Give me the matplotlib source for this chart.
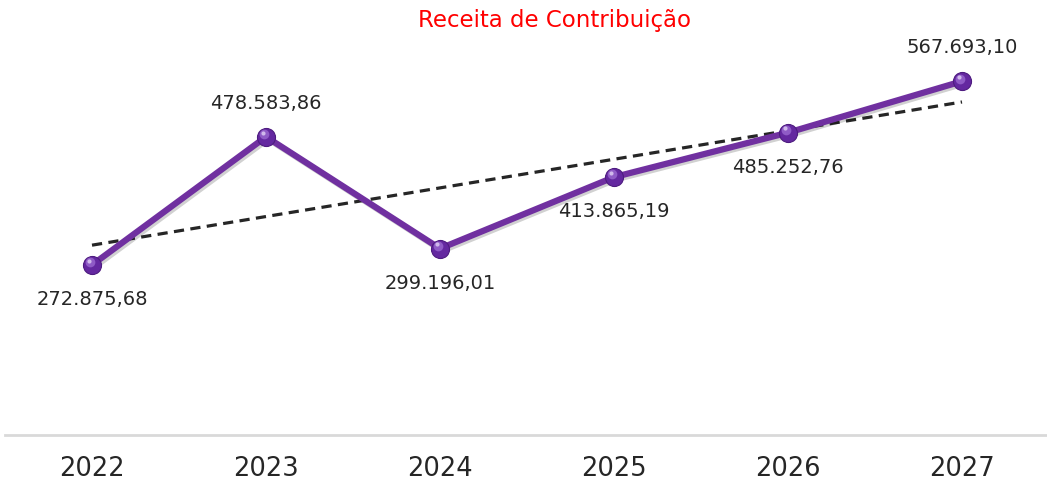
import matplotlib
matplotlib.use("Agg")
import matplotlib.pyplot as plt
import matplotlib.transforms as mtransforms
import matplotlib.patheffects as pe
import numpy as np

years = ["2022", "2023", "2024", "2025", "2026", "2027"]
values = [272875.68, 478583.86, 299196.01, 413865.19, 485252.76, 567693.10]
label_pos = ["below", "above", "below", "below", "below", "above"]

title = "Receita de Contribuição"
purple = "#7030a0"

def fmt_br(v):
    s = f"{v:,.2f}"
    return s.replace(",", "X").replace(".", ",").replace("X", ".")

fig = plt.figure(figsize=(10.47, 4.84), dpi=100)
ax = fig.add_axes([5/1047, 49/484, 1044/1047, 405/484])
x = np.arange(len(years))

ax.plot(x, values, color=purple, lw=4.5, zorder=3, solid_joinstyle="round",
        path_effects=[pe.SimpleLineShadow(offset=(1.5, -1.5), alpha=0.18), pe.Normal()])

# markers with a little highlight
ax.plot(x, values, "o", ms=13, color="#6428a0", mec="#4e1c80", mew=0.8, zorder=4)
hl = ax.transData + mtransforms.ScaledTranslation(-1.5/72, 2/72, fig.dpi_scale_trans)
ax.plot(x, values, "o", ms=7, color="#9a68d0", mew=0, alpha=0.8, zorder=5, transform=hl)
hl2 = ax.transData + mtransforms.ScaledTranslation(-2/72, 3/72, fig.dpi_scale_trans)
ax.plot(x, values, "o", ms=3, color="#d8c4f0", mew=0, alpha=0.9, zorder=6, transform=hl2)

# linear trendline
coef = np.polyfit(x, values, 1)
trend = np.polyval(coef, x)
ax.plot(x, trend, ls=(0, (3.2, 2.0)), color="#262626", lw=2.3, zorder=2)

for xi, v, pos in zip(x, values, label_pos):
    dy = 24 if pos == "above" else -25
    ax.annotate(fmt_br(v), (xi, v), xytext=(0, dy), textcoords="offset points",
                ha="center", va="center", fontsize=14, color="#262626",
                family="DejaVu Sans")

ax.set_xlim(-0.5, 5.5)
ax.set_ylim(0, 650000)
ax.set_xticks(x)
ax.set_xticklabels(years, fontsize=18.5, color="#262626")
ax.tick_params(axis="x", length=0, pad=15)
ax.set_yticks([])
for s in ["top", "right", "left"]:
    ax.spines[s].set_visible(False)
ax.spines["bottom"].set_color("#d9d9d9")
ax.spines["bottom"].set_linewidth(2)
ax.patch.set_visible(False)

fig.text(554/1047, 1 - 20/484, title, color="#ff0000", fontsize=16.5,
         ha="center", va="center")

fig.savefig("out.png", dpi=100)
